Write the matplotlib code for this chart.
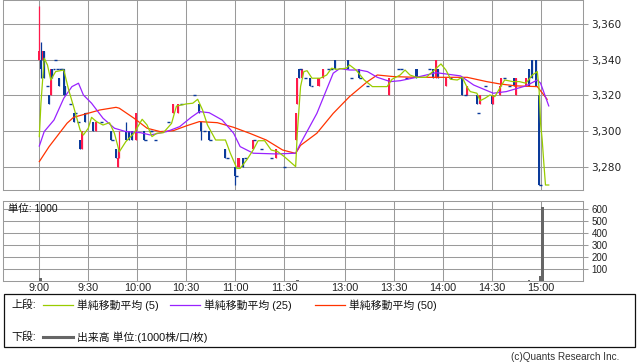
import numpy as np
import matplotlib
matplotlib.use("Agg")
import matplotlib.pyplot as plt
from matplotlib.lines import Line2D
from matplotlib.patches import Rectangle

plt.rcParams['font.family'] = ['DejaVu Sans', 'Noto Sans CJK JP']

# 1-minute candles (time, open, high, low, close)
candle_t = ["09:00", "09:01", "09:02", "09:03", "09:05", "09:06", "09:07", "09:08", "09:09", "09:10",
            "09:11", "09:12", "09:13", "09:14", "09:15", "09:16", "09:19", "09:21", "09:22", "09:24",
            "09:25", "09:26", "09:28", "09:29", "09:33", "09:35", "09:38", "09:44", "09:45", "09:47",
            "09:48", "09:49", "09:53", "09:55", "09:57", "09:59", "10:04", "10:05", "10:08", "10:09",
            "10:11", "10:19", "10:22", "10:25", "10:27", "10:35", "10:38", "10:39", "10:41", "10:44",
            "10:45", "10:54", "10:55", "11:00", "11:01", "11:02", "11:05", "11:06", "11:11", "11:12",
            "11:16", "11:22", "11:25", "11:30",
            "12:30", "12:31", "12:32", "12:33", "12:34", "12:36", "12:39", "12:40", "12:44", "12:47",
            "12:50", "12:52", "12:54", "13:02", "13:04", "13:09", "13:10", "13:14", "13:27", "13:33",
            "13:35", "13:38", "13:44", "13:52", "13:54", "13:56", "13:57", "14:02", "14:05", "14:12",
            "14:14", "14:15", "14:21", "14:22", "14:23", "14:26", "14:30", "14:31", "14:35", "14:36",
            "14:38", "14:41", "14:44", "14:45", "14:51", "14:53", "14:55", "14:57", "14:59", "15:00"]
candle_o = [3340, 3340, 3340, 3345, 3325, 3320, 3320, 3335, 3335, 3340,
            3335, 3330, 3335, 3335, 3335, 3325, 3315, 3310, 3310, 3305,
            3295, 3290, 3310, 3310, 3305, 3300, 3305, 3300, 3295, 3290,
            3280, 3285, 3300, 3300, 3300, 3295, 3300, 3295, 3300, 3300,
            3295, 3305, 3310, 3310, 3315, 3320, 3315, 3305, 3300, 3300,
            3295, 3290, 3285, 3280, 3275, 3280, 3285, 3285, 3290, 3295,
            3290, 3285, 3285, 3280,
            3295, 3315, 3335, 3335, 3330, 3330, 3330, 3325, 3325, 3330,
            3335, 3335, 3340, 3340, 3330, 3335, 3330, 3325, 3320, 3335,
            3335, 3330, 3335, 3335, 3335, 3330, 3335, 3325, 3330, 3330,
            3320, 3320, 3320, 3310, 3315, 3325, 3320, 3315, 3320, 3325,
            3330, 3325, 3330, 3320, 3325, 3335, 3340, 3340, 3320, 3270]
candle_h = [3370, 3350, 3345, 3345, 3325, 3320, 3335, 3335, 3335, 3340,
            3335, 3330, 3335, 3335, 3335, 3325, 3315, 3310, 3310, 3305,
            3295, 3300, 3310, 3310, 3305, 3305, 3305, 3300, 3295, 3290,
            3285, 3300, 3305, 3300, 3300, 3310, 3300, 3295, 3300, 3300,
            3295, 3305, 3315, 3315, 3315, 3320, 3315, 3305, 3300, 3300,
            3295, 3290, 3285, 3280, 3275, 3285, 3285, 3285, 3295, 3295,
            3290, 3285, 3290, 3280,
            3310, 3330, 3335, 3335, 3335, 3330, 3330, 3325, 3330, 3335,
            3335, 3335, 3340, 3340, 3330, 3335, 3330, 3325, 3330, 3335,
            3335, 3330, 3335, 3335, 3335, 3340, 3335, 3330, 3330, 3330,
            3320, 3325, 3320, 3310, 3320, 3325, 3320, 3320, 3325, 3330,
            3330, 3325, 3330, 3330, 3330, 3335, 3340, 3340, 3320, 3270]
candle_l = [3340, 3330, 3340, 3330, 3325, 3315, 3320, 3330, 3335, 3340,
            3335, 3325, 3335, 3335, 3320, 3320, 3315, 3305, 3310, 3305,
            3290, 3290, 3305, 3310, 3300, 3300, 3305, 3295, 3295, 3285,
            3280, 3285, 3295, 3295, 3295, 3295, 3295, 3295, 3300, 3300,
            3295, 3305, 3310, 3310, 3315, 3320, 3310, 3295, 3300, 3295,
            3295, 3285, 3285, 3270, 3275, 3280, 3280, 3285, 3290, 3295,
            3290, 3285, 3285, 3280,
            3295, 3315, 3330, 3335, 3330, 3330, 3325, 3325, 3325, 3330,
            3335, 3335, 3335, 3335, 3330, 3330, 3330, 3325, 3320, 3335,
            3335, 3330, 3330, 3335, 3330, 3330, 3330, 3325, 3330, 3320,
            3320, 3320, 3315, 3310, 3315, 3325, 3315, 3315, 3320, 3325,
            3330, 3325, 3325, 3320, 3325, 3325, 3330, 3325, 3270, 3270]
candle_c = [3345, 3335, 3345, 3330, 3325, 3315, 3335, 3330, 3335, 3340,
            3335, 3325, 3335, 3335, 3320, 3320, 3315, 3305, 3310, 3305,
            3290, 3300, 3305, 3310, 3300, 3305, 3305, 3295, 3295, 3285,
            3285, 3290, 3295, 3295, 3295, 3310, 3295, 3295, 3300, 3300,
            3295, 3305, 3315, 3315, 3315, 3320, 3310, 3300, 3300, 3295,
            3295, 3285, 3285, 3275, 3275, 3285, 3280, 3285, 3295, 3295,
            3290, 3285, 3290, 3280,
            3310, 3330, 3330, 3335, 3335, 3330, 3325, 3325, 3330, 3335,
            3335, 3335, 3335, 3335, 3330, 3330, 3330, 3325, 3330, 3335,
            3335, 3330, 3330, 3335, 3330, 3340, 3330, 3330, 3330, 3320,
            3320, 3325, 3315, 3310, 3320, 3325, 3315, 3320, 3325, 3330,
            3330, 3325, 3325, 3330, 3330, 3325, 3330, 3325, 3270, 3270]

# moving averages
ma5_t = ["09:00", "09:01", "09:03", "09:05", "09:07", "09:10", "09:15", "09:18", "09:21", "09:25",
         "09:27", "09:30", "09:32", "09:35", "09:39", "09:43", "09:46", "09:49", "09:53", "09:58",
         "10:03", "10:06", "10:09", "10:12", "10:16", "10:21", "10:24", "10:30", "10:34", "10:37",
         "10:40", "10:43", "10:48", "10:54", "10:57", "11:01", "11:03", "11:07", "11:11", "11:14",
         "11:18", "11:22", "11:26", "11:30", "12:30", "12:31", "12:33", "12:35", "12:37", "12:40",
         "12:45", "12:49", "12:52", "12:55", "13:01", "13:03", "13:07", "13:12", "13:17", "13:26",
         "13:29", "13:34", "13:37", "13:40", "13:44", "13:50", "13:55", "13:59", "14:02", "14:05",
         "14:09", "14:12", "14:15", "14:17", "14:21", "14:23", "14:26", "14:29", "14:32", "14:35",
         "14:38", "14:43", "14:47", "14:51", "14:55", "14:58", "14:59", "15:00", "15:01", "15:02",
         "15:03", "15:05"]
ma5_v = [3296.9, 3315.6, 3340.8, 3337.0, 3328.6, 3333.3, 3334.2, 3323.0, 3313.7, 3300.6,
         3297.8, 3301.6, 3307.7, 3305.3, 3303.4, 3304.7, 3298.8, 3288.4, 3294.1, 3298.8,
         3306.6, 3303.4, 3296.9, 3298.8, 3299.1, 3304.3, 3314.0, 3315.2, 3315.6, 3317.8,
         3311.8, 3303.4, 3295.0, 3295.0, 3287.6, 3279.1, 3279.1, 3283.8, 3289.4, 3294.6,
         3294.6, 3289.4, 3288.5, 3285.7, 3280.1, 3298.8, 3324.9, 3333.3, 3333.8, 3329.6,
         3329.6, 3331.4, 3335.2, 3334.6, 3335.2, 3337.0, 3334.2, 3328.6, 3324.9, 3324.9,
         3329.0, 3331.4, 3334.2, 3331.4, 3330.1, 3330.1, 3334.2, 3337.6, 3334.2, 3329.0,
         3328.6, 3330.1, 3324.5, 3322.1, 3321.2, 3317.0, 3318.4, 3320.2, 3319.3, 3324.0,
         3328.6, 3327.7, 3327.7, 3326.8, 3331.4, 3333.3, 3324.9, 3304.4, 3295.0, 3282.0,
         3269.8, 3269.8]

ma25_t = ["09:00", "09:03", "09:09", "09:15", "09:20", "09:24", "09:27", "09:32", "09:39", "09:46",
          "09:53", "10:02", "10:08", "10:18", "10:26", "10:33", "10:38", "10:44", "10:52", "10:59",
          "11:03", "11:11", "11:25", "12:30", "12:33", "12:43", "12:53", "12:57", "13:03", "13:09",
          "13:14", "13:20", "13:28", "13:34", "13:44", "13:56", "14:11", "14:19", "14:31", "14:39",
          "14:51", "14:58", "15:00", "15:05"]
ma25_v = [3291.6, 3299.7, 3306.2, 3318.4, 3324.9, 3326.8, 3320.2, 3315.6, 3307.2, 3301.6,
          3299.7, 3299.1, 3297.8, 3299.7, 3302.5, 3307.7, 3310.9, 3310.3, 3306.2, 3298.8,
          3291.3, 3287.6, 3287.2, 3287.6, 3293.1, 3309.9, 3332.4, 3335.0, 3334.2, 3334.2,
          3333.3, 3330.1, 3327.7, 3328.2, 3330.1, 3332.7, 3330.9, 3325.8, 3321.2, 3322.1,
          3325.3, 3328.6, 3326.8, 3314.1]

ma50_t = ["09:00", "09:06", "09:17", "09:21", "09:30", "09:37", "09:47", "09:49", "09:58", "10:06",
          "10:14", "10:22", "10:30", "10:38", "10:49", "10:59", "11:09", "11:19", "11:29", "12:30",
          "12:33", "12:43", "12:53", "13:03", "13:14", "13:20", "13:30", "13:44", "14:00", "14:15",
          "14:27", "14:35", "14:45", "14:58", "15:04"]
ma50_v = [3282.9, 3291.3, 3304.4, 3307.7, 3310.0, 3311.8, 3313.3, 3312.8, 3307.2, 3301.6,
          3299.7, 3300.2, 3302.9, 3305.3, 3304.7, 3302.1, 3298.7, 3295.0, 3289.4, 3287.5,
          3292.0, 3298.8, 3309.9, 3319.3, 3327.7, 3331.4, 3330.5, 3330.1, 3330.1, 3330.1,
          3327.7, 3326.4, 3325.3, 3324.9, 3317.8]

vol_t = ["09:00", "12:30", "14:52", "14:59", "15:00"]
vol_v = [20, 8, 8, 40, 620]

price_ticks = [3280, 3300, 3320, 3340, 3360]
vol_ticks = [100, 200, 300, 400, 500, 600]
time_labels = ["9:00", "9:30", "10:00", "10:30", "11:00", "11:30",
               "13:00", "13:30", "14:00", "14:30", "15:00"]


def slot(t):
    hh, mm = map(int, t.split(":"))
    mins = hh * 60 + mm
    if mins <= 11 * 60 + 30:
        return mins - 9 * 60
    return mins - (12 * 60 + 30) + 157


RED = '#ff1a4b'
BLUE = '#0a3a9a'
GRID = '#9a9a9a'
W, H = 638, 362

fig = plt.figure(figsize=(6.38, 3.62), dpi=100)
ax1 = fig.add_axes([3.3 / W, 1 - 190 / H, 579.4 / W, 190 / H])
ax2 = fig.add_axes([3.3 / W, 1 - 280.5 / H, 579.4 / W, 79.2 / H])

xs = np.array([slot(t) for t in time_labels])
for ax in (ax1, ax2):
    ax.set_xlim(-22.05, 332.8)
    ax.set_xticks(xs)
    ax.grid(True, color=GRID, lw=0.75)
    ax.set_axisbelow(True)
    for sp in ax.spines.values():
        sp.set_color(GRID)
        sp.set_linewidth(0.75)
    ax.yaxis.tick_right()
    ax.tick_params(axis='y', direction='out', length=3.3, width=0.75, color=GRID,
                   pad=3, labelcolor='#222222')
    ax.tick_params(axis='x', length=0)

# candles
s = np.array([slot(t) for t in candle_t], dtype=float)
o = np.array(candle_o, float)
hi = np.array(candle_h, float)
lo = np.array(candle_l, float)
c = np.array(candle_c, float)
flat = o == c
cols = np.where(c > o, RED, BLUE)
ax1.vlines(s[~flat], lo[~flat], hi[~flat], colors=cols[~flat], lw=0.9, zorder=2)
ax1.bar(s[~flat], (c - o)[~flat], bottom=o[~flat], width=1.25, color=cols[~flat],
        linewidth=0, zorder=2)
ax1.vlines(s[flat], lo[flat], hi[flat], colors=BLUE, lw=0.9, zorder=2)
ax1.hlines(o[flat], s[flat] - 0.9, s[flat] + 0.9, colors=BLUE, lw=1.0, zorder=2)

ax1.plot([slot(t) for t in ma50_t], ma50_v, color='#ff3300', lw=0.9, zorder=3)
ax1.plot([slot(t) for t in ma25_t], ma25_v, color='#9922ff', lw=0.9, zorder=3)
ax1.plot([slot(t) for t in ma5_t], ma5_v, color='#99cc00', lw=0.9, zorder=4)

ax1.set_ylim(3267.0, 3373.4)
ax1.set_yticks(price_ticks)
ax1.set_yticklabels([f"{v:,}" for v in price_ticks], fontsize=7.6)
ax1.set_xticklabels([])

# volume
ax2.bar([slot(t) for t in vol_t], vol_v, width=1.8, align='edge', color='#666666',
        linewidth=0, zorder=2)
ax2.set_ylim(0, 664)
ax2.set_yticks(vol_ticks)
ax2.set_yticklabels([str(v) for v in vol_ticks], fontsize=7, family='Liberation Sans')
ax2.set_xticklabels(time_labels, fontsize=7.8, family='Liberation Sans', color='#222222')
ax2.tick_params(axis='x', pad=1.5)
ax2.text(4.5 / 579.4, 1 - 8 / 79.2, "単位: 1000", transform=ax2.transAxes,
         fontsize=7.5, va='center', ha='left', color='#111111',
         family=['Liberation Sans', 'Noto Sans CJK JP'])


def fx(x):
    return x / W


def fy(y):
    return 1 - y / H


fig.patches.append(Rectangle((fx(4), fy(347)), fx(631), 53.5 / H, transform=fig.transFigure,
                             fill=False, edgecolor='#111111', lw=0.9))
lab = dict(fontsize=7.8, va='center', ha='left', color='#111111',
           family=['Liberation Sans', 'Noto Sans CJK JP'])
fig.text(fx(11), fy(305), "上段:", **lab)
fig.text(fx(11), fy(337), "下段:", **lab)
for x0, col, txt in [(43, '#99cc00', "単純移動平均 (5)"),
                     (170, '#9922ff', "単純移動平均 (25)"),
                     (315, '#ff3300', "単純移動平均 (50)")]:
    fig.add_artist(Line2D([fx(x0), fx(x0 + 30)], [fy(305), fy(305)], color=col, lw=0.9))
    fig.text(fx(x0 + 34), fy(305), txt, **lab)
fig.add_artist(Line2D([fx(43), fx(73)], [fy(337), fy(337)], color='#666666', lw=2.2))
fig.text(fx(77), fy(337), "出来高 単位:(1000株/口/枚)", **lab)
fig.text(fx(619), fy(356.5), "(c)Quants Research Inc.", fontsize=7.2, ha='right', va='center',
         color='#333333', family='Liberation Sans')

fig.savefig("out.png", dpi=100)
